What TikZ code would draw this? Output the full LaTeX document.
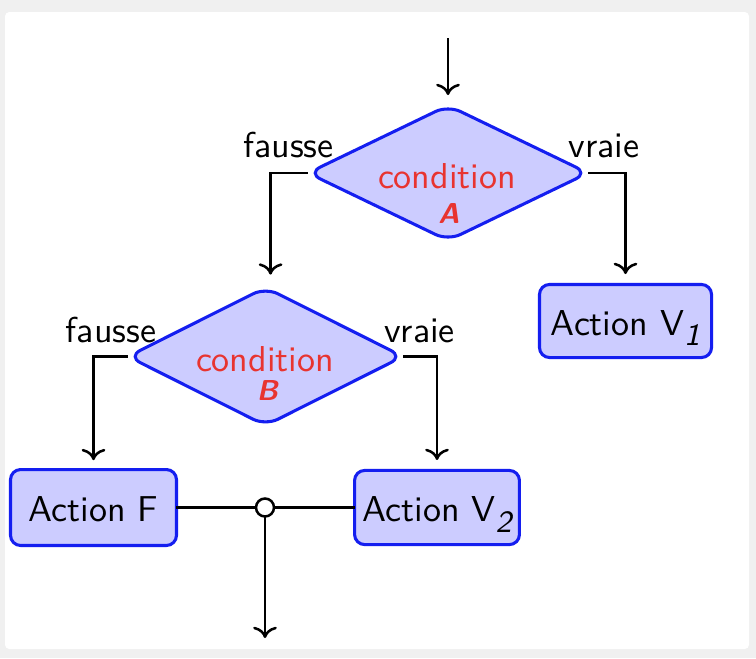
\documentclass[tikz,border=0pt]{standalone}
\usepackage{fontspec}
\usetikzlibrary{shapes.geometric,arrows.meta}
\definecolor{bggray}{RGB}{240,240,240}
\definecolor{condred}{RGB}{232,52,48}
\definecolor{boxfill}{RGB}{204,204,255}
\definecolor{boxline}{RGB}{20,30,240}
\newcommand{\subidx}[1]{\raisebox{-2.9pt}{\fontsize{8.6}{9}\selectfont\itshape #1}}
\begin{document}
\begin{tikzpicture}[x=0.2778pt,y=-0.2778pt,font=\sffamily,
  conn/.style={line width=0.7pt,black},
  arr/.style={conn,-{To[scale=1.0]},shorten >=2.9pt},
  actionbox/.style={rectangle,rounded corners=2.8pt,draw=boxline,fill=boxfill,line width=0.85pt,
    inner sep=0pt,outer sep=0pt,text height=8pt,text depth=0pt},
  condbox/.style={diamond,rounded corners=3.8pt,draw=boxline,fill=boxfill,line width=0.85pt,
    inner sep=0pt,outer sep=0pt},
  condtxt/.style={text=condred,inner sep=0pt,anchor=base},
  condletter/.style={condtxt,font=\sffamily\footnotesize\bfseries\itshape},
  lbl/.style={inner sep=0pt,anchor=base},
  junction/.style={circle,draw,fill=white,line width=0.7pt,minimum size=5pt,inner sep=0pt,outer sep=0pt}]
\useasboundingbox (0,0) rectangle (756,658);
\fill[bggray] (0,0) rectangle (756,658);
\fill[white,rounded corners=1.2pt] (5,12) rectangle (749,649);

% decisions
\node[condbox,minimum width=77.8pt,minimum height=37.5pt] (A) at (448,173) {};
\node[condtxt] (At1) at (447,188) {condition};
\node[condletter] (At2) at (449,223) {A};
\node[condbox,minimum width=76.4pt,minimum height=38.3pt] (B) at (265.5,356.5) {};
\node[condtxt] (Bt1) at (265,371) {condition};
\node[condletter] (Bt2) at (267.5,400) {B};

% actions
\node[actionbox,minimum width=47.8pt,minimum height=20.3pt] (V1) at (625.5,321) {Action V\subidx{1}};
\node[actionbox,minimum width=46.1pt,minimum height=21.1pt] (F) at (93.5,507.5) {Action F};
\node[actionbox,minimum width=45.8pt,minimum height=20.6pt] (V2) at (437,507.5) {Action V\subidx{2}};
\node[junction] (J) at (265,507.5) {};

% labels
\node[lbl] (fa) at (288.5,157) {fausse};
\node[lbl] (va) at (604,157) {vraie};
\node[lbl] (fb) at (111,342) {fausse};
\node[lbl] (vb) at (419.5,342) {vraie};

% connectors
\coordinate (top) at (448,38);
\coordinate (bot) at (265,638);
\draw[arr] (top) -- (A.north);
\draw[arr,shorten >=3.6pt] (A.west) -| ([xshift=1.4pt]B.north);
\draw[arr] (A.east) -| (V1.north);
\draw[arr,shorten >=2.6pt] (B.west) -| (F.north);
\draw[arr] (B.east) -| (V2.north);
\draw[conn] (F.east) -- (J.west);
\draw[conn] (V2.west) -- (J.east);
\draw[arr,shorten >=0pt] (J.south) -- (bot);
\end{tikzpicture}
\end{document}
